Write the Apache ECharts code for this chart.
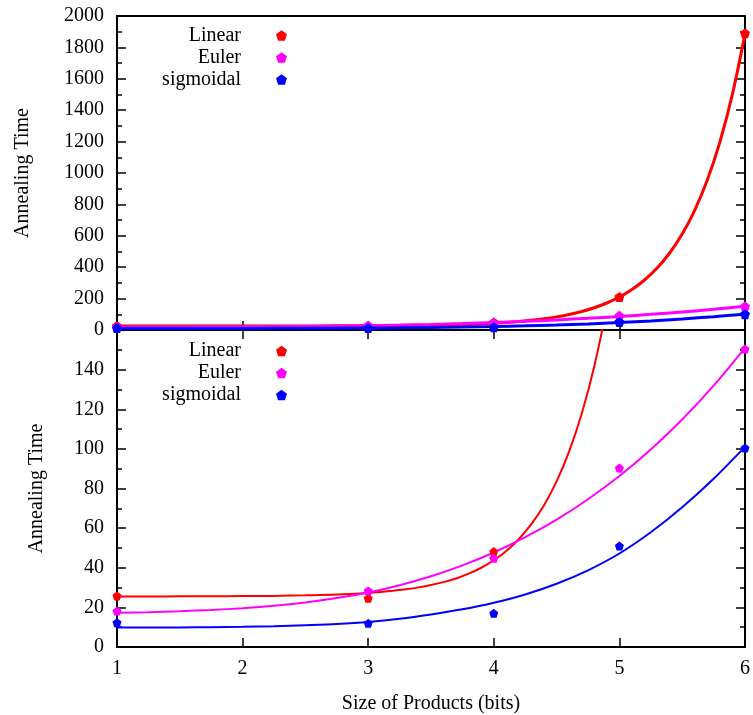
<!DOCTYPE html>
<html><head><meta charset="utf-8">
<script src="https://cdn.jsdelivr.net/npm/echarts@6/dist/echarts.min.js"></script>
<style>html,body{margin:0;padding:0;background:#fff}#c{width:753px;height:715px}</style>
</head><body><div id="c"></div><script>
// ---- data ----
const sizes = [1, 3, 4, 5, 6];
const linearTimes = [25.8, 24.6, 48.2, 210, 1890];
const eulerTimes = [18.2, 28.3, 44.8, 90.3, 150.4];
const sigmoidalTimes = [12.3, 12.0, 17.0, 51.0, 100.4];

// fitted curves, values
const linearFitX = [1, 1.25, 1.5, 1.75, 2, 2.25, 2.5, 2.75, 3, 3.1, 3.2, 3.3, 3.4, 3.5, 3.6, 3.7, 3.8, 3.9, 4, 4.1, 4.2, 4.3, 4.4, 4.5, 4.6, 4.7, 4.8, 4.9, 5, 5.1, 5.2, 5.3, 5.4, 5.5, 5.6, 5.7, 5.8, 5.9, 6];
const linearFitY = [25.5, 25.5, 25.6, 25.6, 25.7, 25.8, 26.1, 26.5, 27.3, 27.8, 28.4, 29.1, 30.1, 31.3, 32.75, 34.6, 37.0, 40.0, 43.8, 48.5, 54.5, 62.1, 71.6, 83.6, 98.7, 117.7, 141.7, 172, 210, 258, 318.5, 394.5, 490.5, 611, 764, 956, 1197, 1502, 1886];
const curveX = [1, 1.25, 1.5, 1.75, 2, 2.25, 2.5, 2.75, 3, 3.25, 3.5, 3.75, 4, 4.25, 4.5, 4.75, 5, 5.25, 5.5, 5.75, 6];
const eulerFitY = [17.3, 17.6, 18.1, 18.7, 19.6, 20.8, 22.5, 24.7, 27.5, 31.2, 35.7, 41.2, 47.7, 55.4, 64.3, 74.6, 86.3, 99.7, 114.8, 131.9, 151];
const sigmoidalFitY = [9.8, 9.82, 9.9, 10.0, 10.2, 10.5, 11.0, 11.6, 12.6, 14.2, 16.4, 19.0, 22.3, 26.5, 31.9, 38.7, 47.2, 57.9, 70.5, 84.9, 101];

const topTicks = {min: 0, max: 2000, interval: 200};
const bottomTicks = {min: 0, max: 160, interval: 20};
const xTicks = {min: 1, max: 6, interval: 1};

const seriesNames = ['Linear', 'Euler', 'sigmoidal'];
const xTitle = 'Size of Products (bits)';
const yTitle = 'Annealing Time';

// ---- chart ----
const FONT = 'Liberation Serif';
const pent = 'path://M0,-10L9.51,-3.09L5.88,8.09L-5.88,8.09L-9.51,-3.09Z';
const colors = {Linear: '#ff0000', Euler: '#ff00ff', sigmoidal: '#0000ff'};
const axisLine = {show: true, onZero: false, lineStyle: {color: '#000', width: 2}};

function xAx(gridIndex, position, showLabel, showTick, name) {
  return {
    type: 'value', gridIndex, position, min: xTicks.min, max: xTicks.max, interval: xTicks.interval,
    axisLine,
    axisTick: {show: showTick, inside: true, length: 9, lineStyle: {color: '#000', width: 1.5}},
    axisLabel: {show: showLabel, margin: 12, fontFamily: FONT, fontSize: 20, color: '#000'},
    splitLine: {show: false},
    name: name || '', nameLocation: 'middle', nameGap: 47,
    nameTextStyle: {fontFamily: FONT, fontSize: 20, color: '#000'}
  };
}
function yAx(gridIndex, position, ticks, showLabel, name, nameGap, hideMax) {
  return {
    type: 'value', gridIndex, position, min: ticks.min, max: ticks.max, interval: ticks.interval,
    axisLine,
    axisTick: {show: true, inside: true, length: 9, lineStyle: {color: '#000', width: 1.5}},
    minorTick: {show: true, splitNumber: 2, length: 5, lineStyle: {color: '#000', width: 1.5}},
    axisLabel: {show: showLabel, margin: 13, fontFamily: FONT, fontSize: 20, color: '#000',
      formatter: v => (hideMax && v === ticks.max) ? '' : String(v)},
    splitLine: {show: false}, minorSplitLine: {show: false},
    name: name || '', nameLocation: 'middle', nameGap: nameGap || 0,
    nameTextStyle: {fontFamily: FONT, fontSize: 20, color: '#000'}
  };
}
function scatter(name, vals, gi, size) {
  return {type: 'scatter', name, xAxisIndex: gi * 2, yAxisIndex: gi * 2, symbol: pent, symbolSize: size,
    itemStyle: {color: colors[name], opacity: 1}, data: sizes.map((x, i) => [x, vals[i]]), z: 4};
}
function fit(name, xs, ys, gi, w) {
  return {type: 'line', name: name + ' fit', xAxisIndex: gi * 2, yAxisIndex: gi * 2, showSymbol: false, symbol: 'none',
    smooth: 0.3, clip: true, lineStyle: {width: w, color: colors[name]},
    data: xs.map((x, i) => [x, ys[i]]), z: 3};
}
function legend(top) {
  return {orient: 'vertical', align: 'right', right: 466, top, padding: 0, itemGap: 2, itemWidth: 11, itemHeight: 11,
    icon: pent, selectedMode: false, data: seriesNames, itemStyle: {opacity: 1},
    textStyle: {fontFamily: FONT, fontSize: 20, color: '#000', lineHeight: 20, padding: [0, 30, 0, 0]}};
}

const option = {
  animation: false,
  backgroundColor: '#fff',
  grid: [
    {left: 117, right: 8, top: 16, height: 314},
    {left: 117, right: 8, top: 330, height: 317}
  ],
  xAxis: [
    xAx(0, 'bottom', false, true),
    xAx(0, 'top', false, false),
    xAx(1, 'bottom', true, true, xTitle),
    xAx(1, 'top', false, true)
  ],
  yAxis: [
    yAx(0, 'left', topTicks, true, yTitle, 84, false),
    yAx(0, 'right', topTicks, false),
    yAx(1, 'left', bottomTicks, true, yTitle, 70, true),
    yAx(1, 'right', bottomTicks, false)
  ],
  legend: [legend(25.5), legend(341)],
  series: [
    fit('Linear', linearFitX, linearFitY, 0, 3),
    fit('Euler', curveX, eulerFitY, 0, 3),
    fit('sigmoidal', curveX, sigmoidalFitY, 0, 3),
    scatter('Linear', linearTimes, 0, 10),
    scatter('Euler', eulerTimes, 0, 10),
    scatter('sigmoidal', sigmoidalTimes, 0, 10),
    fit('Linear', linearFitX, linearFitY, 1, 2),
    fit('Euler', curveX, eulerFitY, 1, 2),
    fit('sigmoidal', curveX, sigmoidalFitY, 1, 2),
    scatter('Linear', linearTimes, 1, 9),
    scatter('Euler', eulerTimes, 1, 9),
    scatter('sigmoidal', sigmoidalTimes, 1, 9)
  ]
};
const chart = echarts.init(document.getElementById('c'), null, {renderer: 'canvas'});
chart.setOption(option);
</script></body></html>
